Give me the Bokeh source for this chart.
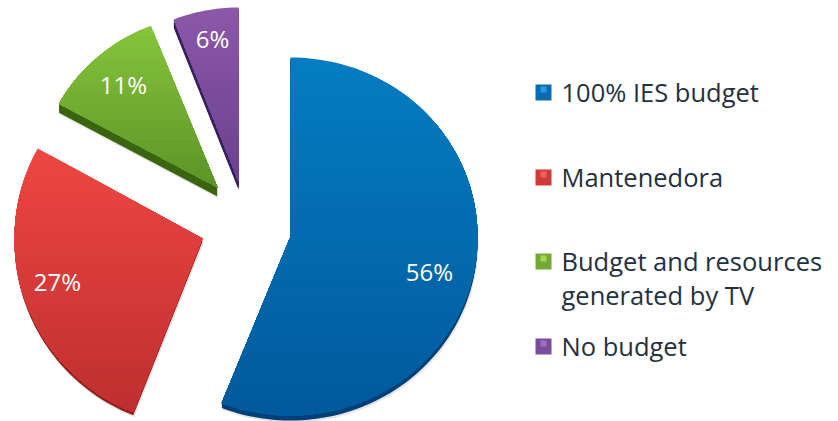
import math
from bokeh.embed import file_html
from bokeh.models import Range1d
from bokeh.plotting import figure
from bokeh.resources import INLINE
from bokeh.core.properties import value

categories = ["100% IES budget", "Mantenedora", "Budget and resources\ngenerated by TV", "No budget"]
shares = [56, 27, 11, 6]
labels = ["56%", "27%", "11%", "6%"]

# style / layout
apex = [(290, 236), (202, 238), (217, 187), (238, 181)]
radii = [(187, 179), (188, 187), (181, 174), (176, 174)]
depth = [5, 3, 9, 8]
top_col = ["#057cc2", "#ee4642", "#86c43c", "#8c58a8"]
bot_col = ["#005a9c", "#bf2f2e", "#5d9427", "#6b4090"]
key_col = ["#0a6cb0", "#d03a38", "#74a935", "#7a4c9c"]
key_hi = ["#2a9ae0", "#f0605c", "#a0d850", "#a070c8"]
side_col = ["#003f78", "#8f2020", "#3b6410", "#38205a"]
label_pos = [(429, 271), (57, 281), (123, 84), (212, 38)]
key_y = [92, 177, 261, 346]
text_y = [91, 176, 277, 345]
FONT = value("Open Sans")

W, H = 838, 421
p = figure(width=W, height=H, x_range=Range1d(0, W), y_range=Range1d(H, 0),
           output_backend="svg", toolbar_location=None, min_border=0)
p.axis.visible = False
p.grid.visible = False
p.outline_line_color = None
p.background_fill_color = "#ffffff"


def mix(a, b, t):
    ca = [int(a[i:i + 2], 16) for i in (1, 3, 5)]
    cb = [int(b[i:i + 2], 16) for i in (1, 3, 5)]
    return "#%02x%02x%02x" % tuple(round(x + (y - x) * t) for x, y in zip(ca, cb))


def clip_below(pts, yc):
    out = []
    for i, (x0, y0) in enumerate(pts):
        x1, y1 = pts[(i + 1) % len(pts)]
        if y0 >= yc:
            out.append((x0, y0))
        if (y0 >= yc) != (y1 >= yc):
            t = (yc - y0) / (y1 - y0)
            out.append((x0 + (x1 - x0) * t, yc))
    return out


total = sum(shares)
cum = 0
for i, s in enumerate(shares):
    a0 = cum / total * 2 * math.pi
    cum += s
    a1 = cum / total * 2 * math.pi
    cx, cy = apex[i]
    rx, ry = radii[i]
    n = max(8, int(s * 2))
    pts = [(cx, cy)] + [(cx + rx * math.sin(a0 + (a1 - a0) * k / n),
                         cy - ry * math.cos(a0 + (a1 - a0) * k / n)) for k in range(n + 1)]
    xs = [q[0] for q in pts]
    ys = [q[1] for q in pts]
    # soft shadow and extruded side
    p.patch([x + 1 for x in xs], [y + depth[i] + 2 for y in ys], fill_color="#999999", fill_alpha=0.25, line_color=None)
    for d in range(1, depth[i] + 1):
        p.patch(xs, [y + d for y in ys], fill_color=side_col[i], line_color=None)
    # vertical gradient on the top face, painted top to bottom
    y_min, y_max = min(ys), max(ys)
    bx, by, bc = [], [], []
    bands = 36
    for b in range(bands):
        yc = y_min + (y_max - y_min) * b / bands
        poly = clip_below(pts, yc) if b else pts
        if len(poly) >= 3:
            bx.append([q[0] for q in poly])
            by.append([q[1] for q in poly])
            bc.append(mix(top_col[i], bot_col[i], b / (bands - 1)))
    p.patches(bx, by, fill_color=bc, line_color=None)

# value labels
p.text([q[0] for q in label_pos], [q[1] for q in label_pos], text=labels, text_color="#ffffff",
       text_font=FONT, text_font_size="24px", text_align="center", text_baseline="middle")

# legend
for i in range(len(categories)):
    kx, ky = 543, key_y[i]
    p.scatter([kx], [ky], marker="square", size=16, fill_color=key_col[i], line_color=None)
    p.scatter([kx], [ky - 3], marker="square", size=6, fill_color=key_hi[i], line_color=None)
p.text([561] * 4, text_y, text=categories, text_color="#24303e", text_font=FONT, text_font_size="25.5px",
       text_align="left", text_baseline="middle", text_line_height=1.0)

open("out.html", "w").write(file_html(p, INLINE))
